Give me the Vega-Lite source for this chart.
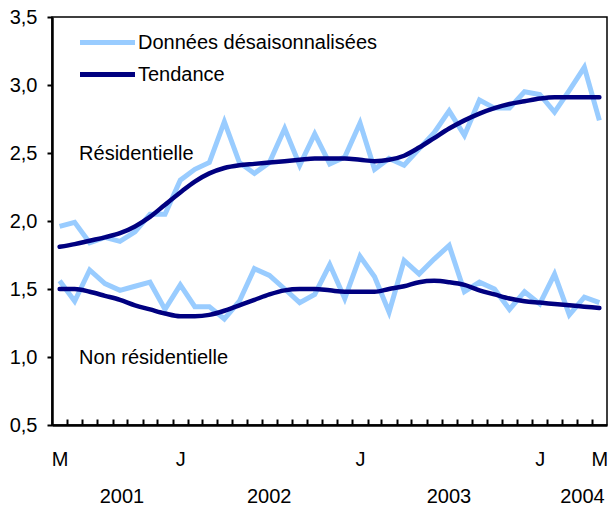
{
  "$schema": "https://vega.github.io/schema/vega-lite/v6.json",
  "width": 555,
  "height": 408,
  "autosize": "none",
  "padding": {"left": 52, "top": 17, "right": 2, "bottom": 81},
  "config": {
    "font": "Liberation Sans",
    "view": {"stroke": "#000000", "strokeWidth": 1.5},
    "axis": {"grid": false, "labelColor": "#000000", "labelFontSize": 20, "labelFont": "Liberation Sans", "domainColor": "#000000", "tickColor": "#000000", "title": null, "labelOverlap": false}
  },
  "datasets": {
    "series": [
      {"date": "2001-05", "serie": "Données désaisonnalisées", "res": 1.96, "nonres": 1.56},
      {"date": "2001-06", "serie": "Données désaisonnalisées", "res": 1.99, "nonres": 1.41},
      {"date": "2001-07", "serie": "Données désaisonnalisées", "res": 1.84, "nonres": 1.64},
      {"date": "2001-08", "serie": "Données désaisonnalisées", "res": 1.88, "nonres": 1.54},
      {"date": "2001-09", "serie": "Données désaisonnalisées", "res": 1.85, "nonres": 1.49},
      {"date": "2001-10", "serie": "Données désaisonnalisées", "res": 1.92, "nonres": 1.52},
      {"date": "2001-11", "serie": "Données désaisonnalisées", "res": 2.05, "nonres": 1.55},
      {"date": "2001-12", "serie": "Données désaisonnalisées", "res": 2.05, "nonres": 1.35},
      {"date": "2002-01", "serie": "Données désaisonnalisées", "res": 2.30, "nonres": 1.53},
      {"date": "2002-02", "serie": "Données désaisonnalisées", "res": 2.38, "nonres": 1.37},
      {"date": "2002-03", "serie": "Données désaisonnalisées", "res": 2.43, "nonres": 1.37},
      {"date": "2002-04", "serie": "Données désaisonnalisées", "res": 2.73, "nonres": 1.28},
      {"date": "2002-05", "serie": "Données désaisonnalisées", "res": 2.43, "nonres": 1.41},
      {"date": "2002-06", "serie": "Données désaisonnalisées", "res": 2.35, "nonres": 1.65},
      {"date": "2002-07", "serie": "Données désaisonnalisées", "res": 2.43, "nonres": 1.60},
      {"date": "2002-08", "serie": "Données désaisonnalisées", "res": 2.68, "nonres": 1.50},
      {"date": "2002-09", "serie": "Données désaisonnalisées", "res": 2.41, "nonres": 1.40},
      {"date": "2002-10", "serie": "Données désaisonnalisées", "res": 2.64, "nonres": 1.46},
      {"date": "2002-11", "serie": "Données désaisonnalisées", "res": 2.42, "nonres": 1.68},
      {"date": "2002-12", "serie": "Données désaisonnalisées", "res": 2.47, "nonres": 1.43},
      {"date": "2003-01", "serie": "Données désaisonnalisées", "res": 2.72, "nonres": 1.74},
      {"date": "2003-02", "serie": "Données désaisonnalisées", "res": 2.38, "nonres": 1.59},
      {"date": "2003-03", "serie": "Données désaisonnalisées", "res": 2.46, "nonres": 1.33},
      {"date": "2003-04", "serie": "Données désaisonnalisées", "res": 2.41, "nonres": 1.71},
      {"date": "2003-05", "serie": "Données désaisonnalisées", "res": 2.53, "nonres": 1.61},
      {"date": "2003-06", "serie": "Données désaisonnalisées", "res": 2.65, "nonres": 1.72},
      {"date": "2003-07", "serie": "Données désaisonnalisées", "res": 2.81, "nonres": 1.82},
      {"date": "2003-08", "serie": "Données désaisonnalisées", "res": 2.63, "nonres": 1.48},
      {"date": "2003-09", "serie": "Données désaisonnalisées", "res": 2.89, "nonres": 1.55},
      {"date": "2003-10", "serie": "Données désaisonnalisées", "res": 2.83, "nonres": 1.50},
      {"date": "2003-11", "serie": "Données désaisonnalisées", "res": 2.83, "nonres": 1.35},
      {"date": "2003-12", "serie": "Données désaisonnalisées", "res": 2.95, "nonres": 1.48},
      {"date": "2004-01", "serie": "Données désaisonnalisées", "res": 2.93, "nonres": 1.39},
      {"date": "2004-02", "serie": "Données désaisonnalisées", "res": 2.80, "nonres": 1.61},
      {"date": "2004-03", "serie": "Données désaisonnalisées", "res": 2.96, "nonres": 1.31},
      {"date": "2004-04", "serie": "Données désaisonnalisées", "res": 3.13, "nonres": 1.44},
      {"date": "2004-05", "serie": "Données désaisonnalisées", "res": 2.74, "nonres": 1.40},
      {"date": "2001-05", "serie": "Tendance", "res": 1.81, "nonres": 1.50},
      {"date": "2001-06", "serie": "Tendance", "res": 1.83, "nonres": 1.50},
      {"date": "2001-07", "serie": "Tendance", "res": 1.855, "nonres": 1.48},
      {"date": "2001-08", "serie": "Tendance", "res": 1.88, "nonres": 1.45},
      {"date": "2001-09", "serie": "Tendance", "res": 1.91, "nonres": 1.42},
      {"date": "2001-10", "serie": "Tendance", "res": 1.96, "nonres": 1.38},
      {"date": "2001-11", "serie": "Tendance", "res": 2.03, "nonres": 1.35},
      {"date": "2001-12", "serie": "Tendance", "res": 2.12, "nonres": 1.32},
      {"date": "2002-01", "serie": "Tendance", "res": 2.21, "nonres": 1.30},
      {"date": "2002-02", "serie": "Tendance", "res": 2.29, "nonres": 1.30},
      {"date": "2002-03", "serie": "Tendance", "res": 2.35, "nonres": 1.31},
      {"date": "2002-04", "serie": "Tendance", "res": 2.39, "nonres": 1.34},
      {"date": "2002-05", "serie": "Tendance", "res": 2.41, "nonres": 1.38},
      {"date": "2002-06", "serie": "Tendance", "res": 2.42, "nonres": 1.42},
      {"date": "2002-07", "serie": "Tendance", "res": 2.43, "nonres": 1.46},
      {"date": "2002-08", "serie": "Tendance", "res": 2.44, "nonres": 1.49},
      {"date": "2002-09", "serie": "Tendance", "res": 2.45, "nonres": 1.50},
      {"date": "2002-10", "serie": "Tendance", "res": 2.46, "nonres": 1.50},
      {"date": "2002-11", "serie": "Tendance", "res": 2.46, "nonres": 1.49},
      {"date": "2002-12", "serie": "Tendance", "res": 2.46, "nonres": 1.48},
      {"date": "2003-01", "serie": "Tendance", "res": 2.45, "nonres": 1.48},
      {"date": "2003-02", "serie": "Tendance", "res": 2.44, "nonres": 1.48},
      {"date": "2003-03", "serie": "Tendance", "res": 2.45, "nonres": 1.50},
      {"date": "2003-04", "serie": "Tendance", "res": 2.48, "nonres": 1.52},
      {"date": "2003-05", "serie": "Tendance", "res": 2.54, "nonres": 1.55},
      {"date": "2003-06", "serie": "Tendance", "res": 2.61, "nonres": 1.56},
      {"date": "2003-07", "serie": "Tendance", "res": 2.68, "nonres": 1.55},
      {"date": "2003-08", "serie": "Tendance", "res": 2.74, "nonres": 1.53},
      {"date": "2003-09", "serie": "Tendance", "res": 2.79, "nonres": 1.49},
      {"date": "2003-10", "serie": "Tendance", "res": 2.83, "nonres": 1.46},
      {"date": "2003-11", "serie": "Tendance", "res": 2.86, "nonres": 1.43},
      {"date": "2003-12", "serie": "Tendance", "res": 2.88, "nonres": 1.41},
      {"date": "2004-01", "serie": "Tendance", "res": 2.90, "nonres": 1.40},
      {"date": "2004-02", "serie": "Tendance", "res": 2.91, "nonres": 1.39},
      {"date": "2004-03", "serie": "Tendance", "res": 2.91, "nonres": 1.38},
      {"date": "2004-04", "serie": "Tendance", "res": 2.91, "nonres": 1.37},
      {"date": "2004-05", "serie": "Tendance", "res": 2.91, "nonres": 1.36}
    ],
    "etiquettes": [
      {"date": "2001-06-25", "valeur": 2.5, "label": "Résidentielle"},
      {"date": "2001-06-25", "valeur": 1.0, "label": "Non résidentielle"}
    ]
  },
  "encoding": {
    "y": {
      "field": "valeur",
      "type": "quantitative",
      "scale": {"domain": [0.5, 3.5], "nice": false, "zero": false},
      "axis": {
        "values": [0.5, 1.0, 1.5, 2.0, 2.5, 3.0, 3.5],
        "labelExpr": "replace(format(datum.value, '.1f'), '.', ',')",
        "tickSize": 5,
        "tickWidth": 2,
        "labelPadding": 10,
        "domainWidth": 2.5,
        "title": null
      }
    }
  },
  "layer": [
    {
      "data": {"name": "series"},
      "transform": [
        {"filter": "datum.serie == 'Données désaisonnalisées'"},
        {"fold": ["res", "nonres"], "as": ["secteur", "valeur"]}
      ],
      "mark": {"type": "line", "strokeWidth": 5, "strokeJoin": "miter"},
      "encoding": {
        "x": {
          "field": "date",
          "timeUnit": "utcyearmonth",
          "type": "temporal",
          "bandPosition": 0.5,
          "scale": {"type": "utc", "nice": false, "domain": [{"year": 2001, "month": 5, "date": 1, "utc": true}, {"year": 2004, "month": 6, "date": 1, "utc": true}]},
          "axis": {
            "orient": "bottom",
            "values": [
              {"year": 2001, "month": 5, "date": 16, "hours": 12, "utc": true},
              {"year": 2002, "month": 1, "date": 16, "hours": 12, "utc": true},
              {"year": 2003, "month": 1, "date": 16, "hours": 12, "utc": true},
              {"year": 2004, "month": 1, "date": 16, "hours": 12, "utc": true},
              {"year": 2004, "month": 5, "date": 16, "hours": 12, "utc": true}
            ],
            "labelExpr": "utcmonth(datum.value) == 4 ? 'M' : 'J'",
            "ticks": false,
            "domain": true,
            "domainWidth": 2.5,
            "labelPadding": 24,
            "labelFlush": false,
            "labelOverlap": false,
            "title": null
          }
        },
        "detail": {"field": "secteur"},
        "color": {
          "field": "serie",
          "type": "nominal",
          "scale": {"domain": ["Données désaisonnalisées", "Tendance"], "range": ["#99ccff", "#000080"]},
          "legend": {
            "orient": "none",
            "legendX": 43,
            "legendY": 13,
            "title": null,
            "symbolType": "M-2.75,0H2.75",
            "symbolSize": 400,
            "symbolStrokeWidth": 5,
            "labelFontSize": 20,
            "labelFont": "Liberation Sans",
            "labelColor": "#000000",
            "labelLimit": 0,
            "labelOffset": 18,
            "rowPadding": 9
          }
        }
      }
    },
    {
      "data": {"name": "series"},
      "transform": [
        {"filter": "datum.serie == 'Tendance'"},
        {"fold": ["res", "nonres"], "as": ["secteur", "valeur"]}
      ],
      "mark": {"type": "line", "strokeWidth": 4.5, "strokeCap": "round", "interpolate": "monotone"},
      "encoding": {
        "x": {
          "field": "date",
          "timeUnit": "utcyearmonth",
          "type": "temporal",
          "bandPosition": 0.5,
          "scale": {"type": "utc", "nice": false, "domain": [{"year": 2001, "month": 5, "date": 1, "utc": true}, {"year": 2004, "month": 6, "date": 1, "utc": true}]},
          "axis": {
            "orient": "bottom",
            "values": [
              {"year": 2001, "month": 9, "date": 19, "utc": true},
              {"year": 2002, "month": 7, "date": 15, "utc": true},
              {"year": 2003, "month": 7, "date": 15, "utc": true},
              {"year": 2004, "month": 4, "date": 11, "utc": true}
            ],
            "labelExpr": "utcFormat(datum.value, '%Y')",
            "ticks": false,
            "domain": false,
            "labelPadding": 61,
            "labelFlush": false,
            "labelOverlap": false,
            "title": null
          }
        },
        "detail": {"field": "secteur"},
        "color": {"field": "serie", "type": "nominal"}
      }
    },
    {
      "data": {"name": "etiquettes"},
      "mark": {"type": "text", "align": "left", "baseline": "middle", "fontSize": 20, "font": "Liberation Sans", "color": "#000000", "dy": 1},
      "encoding": {
        "x": {
          "field": "date",
          "type": "temporal",
          "scale": {"type": "utc", "nice": false, "domain": [{"year": 2001, "month": 5, "date": 1, "utc": true}, {"year": 2004, "month": 6, "date": 1, "utc": true}]},
          "axis": {
            "orient": "bottom",
            "offset": -6,
            "zindex": 2,
            "values": [
              {"year": 2001, "month": 6, "date": 1, "utc": true},
              {"year": 2001, "month": 7, "date": 1, "utc": true},
              {"year": 2001, "month": 8, "date": 1, "utc": true},
              {"year": 2001, "month": 9, "date": 1, "utc": true},
              {"year": 2001, "month": 10, "date": 1, "utc": true},
              {"year": 2001, "month": 11, "date": 1, "utc": true},
              {"year": 2001, "month": 12, "date": 1, "utc": true},
              {"year": 2002, "month": 1, "date": 1, "utc": true},
              {"year": 2002, "month": 2, "date": 1, "utc": true},
              {"year": 2002, "month": 3, "date": 1, "utc": true},
              {"year": 2002, "month": 4, "date": 1, "utc": true},
              {"year": 2002, "month": 5, "date": 1, "utc": true},
              {"year": 2002, "month": 6, "date": 1, "utc": true},
              {"year": 2002, "month": 7, "date": 1, "utc": true},
              {"year": 2002, "month": 8, "date": 1, "utc": true},
              {"year": 2002, "month": 9, "date": 1, "utc": true},
              {"year": 2002, "month": 10, "date": 1, "utc": true},
              {"year": 2002, "month": 11, "date": 1, "utc": true},
              {"year": 2002, "month": 12, "date": 1, "utc": true},
              {"year": 2003, "month": 1, "date": 1, "utc": true},
              {"year": 2003, "month": 2, "date": 1, "utc": true},
              {"year": 2003, "month": 3, "date": 1, "utc": true},
              {"year": 2003, "month": 4, "date": 1, "utc": true},
              {"year": 2003, "month": 5, "date": 1, "utc": true},
              {"year": 2003, "month": 6, "date": 1, "utc": true},
              {"year": 2003, "month": 7, "date": 1, "utc": true},
              {"year": 2003, "month": 8, "date": 1, "utc": true},
              {"year": 2003, "month": 9, "date": 1, "utc": true},
              {"year": 2003, "month": 10, "date": 1, "utc": true},
              {"year": 2003, "month": 11, "date": 1, "utc": true},
              {"year": 2003, "month": 12, "date": 1, "utc": true},
              {"year": 2004, "month": 1, "date": 1, "utc": true},
              {"year": 2004, "month": 2, "date": 1, "utc": true},
              {"year": 2004, "month": 3, "date": 1, "utc": true},
              {"year": 2004, "month": 4, "date": 1, "utc": true},
              {"year": 2004, "month": 5, "date": 1, "utc": true}
            ],
            "labels": false,
            "ticks": true,
            "tickSize": 6,
            "tickWidth": 2,
            "tickColor": "#000000",
            "domain": false,
            "title": null
          }
        },
        "text": {"field": "label"}
      }
    }
  ],
  "resolve": {"axis": {"x": "independent"}}
}
